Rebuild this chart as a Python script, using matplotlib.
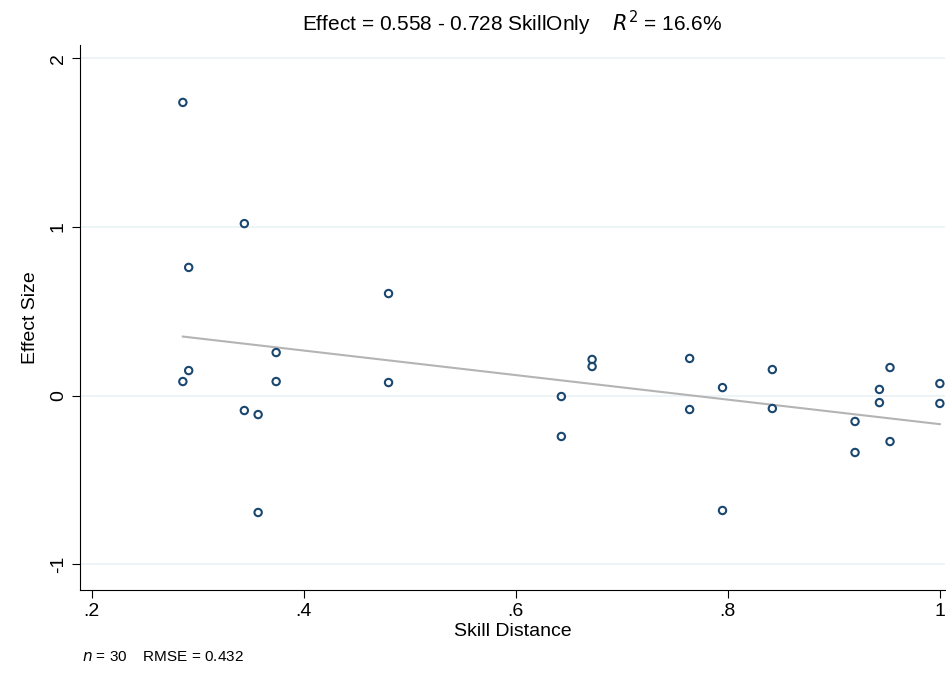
import matplotlib
matplotlib.use("Agg")
import matplotlib.pyplot as plt
import numpy as np

plt.rcParams['font.family'] = ['Liberation Sans', 'DejaVu Sans']

skill = [0.286, 0.2915, 0.344, 0.286, 0.2915, 0.344, 0.357, 0.357, 0.374, 0.374,
         0.480, 0.480, 0.643, 0.643, 0.672, 0.672, 0.764, 0.764, 0.795, 0.795,
         0.842, 0.842, 0.920, 0.920, 0.943, 0.943, 0.953, 0.953, 1.0, 1.0]
effect = [1.739, 0.76, 1.02, 0.083, 0.148, -0.089, -0.113, -0.694, 0.255, 0.083,
          0.605, 0.077, -0.006, -0.243, 0.214, 0.172, 0.220, -0.083, 0.047, -0.682,
          0.154, -0.077, -0.154, -0.338, -0.042, 0.036, 0.166, -0.273, 0.071, -0.047]
intercept, slope = 0.558, -0.728

fig = plt.figure(figsize=(9.48, 6.81), dpi=100)
ax = fig.add_axes([0.0844, 0.1336, 0.9126, 0.8004])

for y in [-1, 0, 1, 2]:
    ax.axhline(y, color='#eaf2f3', lw=1.2, zorder=0)

xs = np.array([min(skill), max(skill)])
ax.plot(xs, intercept + slope * xs, color='#b4b4b4', lw=1.5, zorder=1)
ax.scatter(skill, effect, s=28, facecolors='none', edgecolors='#1a476f', linewidths=1.5, zorder=2)

ax.set_xlim(0.189, 1.005)
ax.set_ylim(-1.154, 2.08)
ax.set_xticks([0.2, 0.4, 0.6, 0.8, 1.0])
ax.set_xticklabels(['.2', '.4', '.6', '.8', '1'])
ax.set_yticks([-1, 0, 1, 2])
ax.set_yticklabels(['-1', '0', '1', '2'], rotation=90, va='center')
ax.tick_params(labelsize=14, length=6)
for s in ['top', 'right']:
    ax.spines[s].set_visible(False)
ax.set_xlabel('Skill Distance', fontsize=14, labelpad=2)
ax.set_ylabel('Effect Size', fontsize=14, labelpad=8)

fig.text(0.54, 0.965, r'Effect = 0.558 - 0.728 SkillOnly    $R^2$ = 16.6%',
         ha='center', va='center', fontsize=15)
fig.text(0.086, 0.035, r'$n$ = 30    RMSE = 0.432', ha='left', va='center', fontsize=11)

fig.savefig('out.png', dpi=100)
